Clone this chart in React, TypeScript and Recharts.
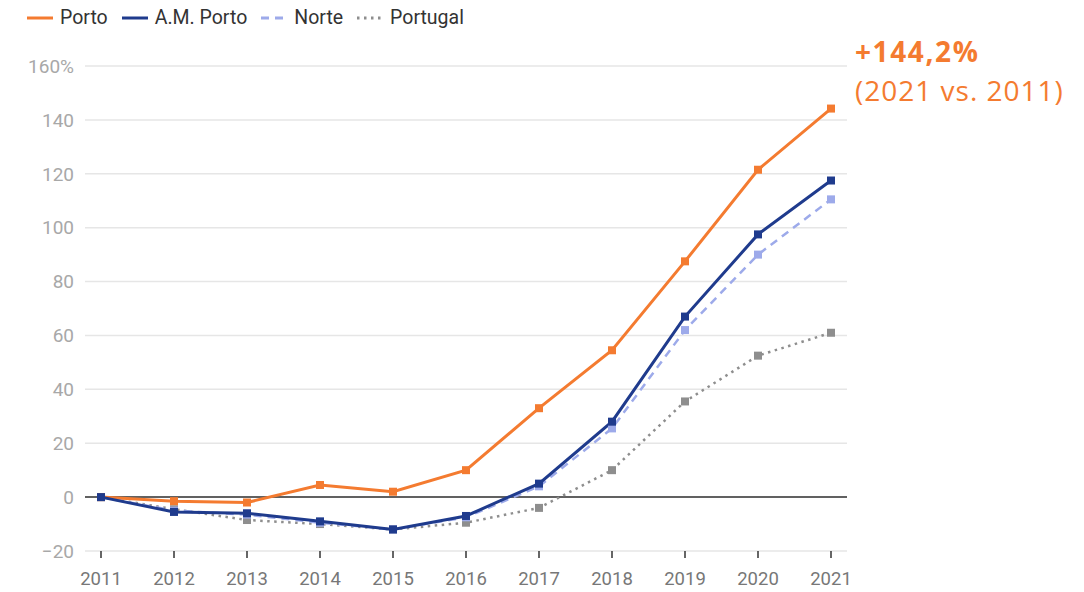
import React from "react";
import {
  LineChart,
  Line,
  XAxis,
  YAxis,
  CartesianGrid,
  ReferenceLine,
} from "recharts";

const years = ["2011", "2012", "2013", "2014", "2015", "2016", "2017", "2018", "2019", "2020", "2021"];
const porto = [0, -1.5, -2, 4.5, 2, 10, 33, 54.5, 87.5, 121.5, 144.2];
const amPorto = [0, -5.5, -6, -9, -12, -7, 5, 28, 67, 97.5, 117.5];
const norte = [0, -5, -6.5, -9.5, -12, -7.5, 4, 25.5, 62, 90, 110.5];
const portugal = [0, -4.5, -8.5, -10, -12, -9.5, -4, 10, 35.5, 52.5, 61];
const yTicks = [-20, 0, 20, 40, 60, 80, 100, 120, 140, 160];

const data = years.map((year, i) => ({
  year,
  porto: porto[i],
  amPorto: amPorto[i],
  norte: norte[i],
  portugal: portugal[i],
}));

const SERIES = [
  { key: "portugal", name: "Portugal", color: "#8e8e8e", width: 2.5, dash: "2.5 4.5" },
  { key: "norte", name: "Norte", color: "#9daaea", width: 2.5, dash: "8 6" },
  { key: "porto", name: "Porto", color: "#f47b30", width: 3, dash: undefined },
  { key: "amPorto", name: "A.M. Porto", color: "#1f3b8d", width: 3, dash: undefined },
];

const LEGEND_ORDER = ["porto", "amPorto", "norte", "portugal"];

const squareDot = (color: string) => (props: any) => {
  const { cx, cy, index } = props;
  if (cx == null || cy == null) return <g key={index} />;
  return <rect key={index} x={cx - 4} y={cy - 4} width={8} height={8} fill={color} />;
};

const LegendBox = () => (
  <div
    style={{
      position: "absolute",
      left: 26,
      top: 6,
      display: "flex",
      alignItems: "center",
      fontFamily: "Roboto",
      fontSize: 19.5,
      color: "#333",
      lineHeight: "24px",
    }}
  >
    {LEGEND_ORDER.map((k) => {
      const s = SERIES.find((x) => x.key === k)!;
      return (
        <div key={k} style={{ display: "flex", alignItems: "center", marginRight: 13 }}>
          <svg width={28} height={6} style={{ marginRight: 6 }}>
            <line
              x1={1}
              y1={3}
              x2={27}
              y2={3}
              stroke={s.color}
              strokeWidth={3}
              strokeDasharray={s.dash}
            />
          </svg>
          <span>{s.name}</span>
        </div>
      );
    })}
  </div>
);

const yFmt = (v: number) => (v === 160 ? "160%" : v < 0 ? "\u2212" + Math.abs(v) : String(v));

export default function App() {
  return (
    <div style={{ position: "absolute", left: 0, top: 0, width: 1084, height: 592, background: "#fff" }}>
      <LineChart
        width={1084}
        height={592}
        data={data}
        margin={{ top: 66, right: 237, bottom: 0, left: 0 }}
      >
        <CartesianGrid vertical={false} stroke="#e6e6e6" strokeWidth={1.5} />
        <XAxis
          dataKey="year"
          axisLine={false}
          tickSize={7}
          tickMargin={14}
          height={41}
          padding={{ left: 16, right: 16 }}
          tickLine={{ stroke: "#333", strokeWidth: 1.5 }}
          tick={{ fill: "#777", fontSize: 18.5, fontFamily: "Roboto" }}
          interval={0}
        />
        <YAxis
          domain={[-20, 160]}
          ticks={yTicks}
          width={85}
          axisLine={false}
          tickLine={false}
          tickSize={0}
          tickMargin={11}
          tickFormatter={yFmt}
          tick={{ fill: "#a8a8a8", fontSize: 19, fontFamily: "Roboto" }}
        />
        <ReferenceLine y={0} stroke="#333" strokeWidth={1.5} />
        {SERIES.map((s) => (
          <Line
            key={s.key}
            dataKey={s.key}
            name={s.name}
            stroke={s.color}
            strokeWidth={s.width}
            strokeDasharray={s.dash}
            type="linear"
            dot={squareDot(s.color)}
            activeDot={false}
            isAnimationActive={false}
          />
        ))}
      </LineChart>
      <LegendBox />
      <div
        style={{
          position: "absolute",
          left: 855,
          top: 32,
          fontFamily: "Open Sans",
          color: "#f47b30",
          lineHeight: "39px",
          whiteSpace: "nowrap",
        }}
      >
        <div style={{ fontWeight: 700, fontSize: 28, letterSpacing: 1.6 }}>+144,2%</div>
        <div style={{ fontSize: 28, letterSpacing: 1 }}>(2021 vs. 2011)</div>
      </div>
    </div>
  );
}
